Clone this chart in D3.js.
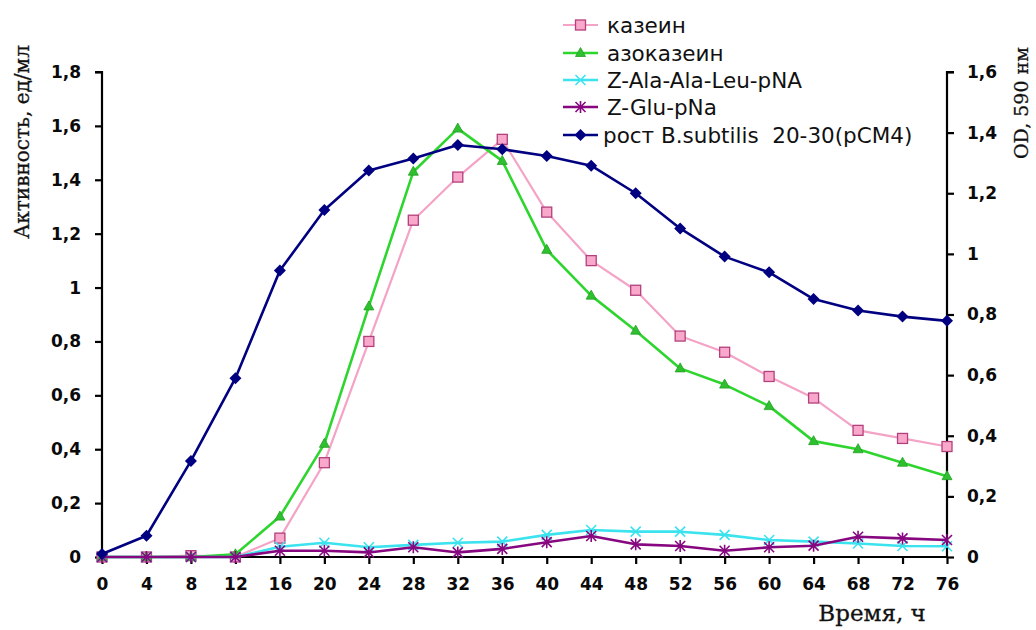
<!DOCTYPE html>
<html><head><meta charset="utf-8">
<script src="https://cdn.jsdelivr.net/npm/d3@7"></script>
<style>body{margin:0;background:#fff}svg{display:block}</style>
</head><body>
<svg id="c" width="1036" height="630"></svg>
<script>
const hours = [0,4,8,12,16,20,24,28,32,36,40,44,48,52,56,60,64,68,72,76];
const casein    = [0,0,0.005,0,0.07,0.35,0.80,1.25,1.41,1.55,1.28,1.10,0.99,0.82,0.76,0.67,0.59,0.47,0.44,0.41];
const azocasein = [0,0,0,0.01,0.15,0.42,0.93,1.43,1.59,1.47,1.14,0.97,0.84,0.70,0.64,0.56,0.43,0.40,0.35,0.30];
const zAlaAlaLeu = [0,0,0,0,0.038,0.053,0.036,0.045,0.053,0.057,0.082,0.10,0.094,0.094,0.082,0.063,0.057,0.05,0.041,0.04];
const zGlu = [0,0,0,0,0.023,0.023,0.017,0.036,0.017,0.03,0.055,0.078,0.047,0.041,0.023,0.036,0.042,0.075,0.069,0.063];
const growth = [0.01,0.07,0.317,0.59,0.945,1.145,1.275,1.315,1.359,1.345,1.323,1.291,1.2,1.084,0.991,0.939,0.851,0.813,0.793,0.779];
const leftTicks = [0,0.2,0.4,0.6,0.8,1,1.2,1.4,1.6,1.8];
const rightTicks = [0,0.2,0.4,0.6,0.8,1,1.2,1.4,1.6];
const seriesNames = ["казеин","азоказеин","Z-Ala-Ala-Leu-pNA","Z-Glu-pNa","рост B.subtilis\u00a0 20-30(pCM4)"];

const svg = d3.select("#c");
const L = 102, R = 947, T = 72, B = 557;
const x = d3.scaleLinear().domain([0,76]).range([L,R]);
const yL = d3.scaleLinear().domain([0,1.8]).range([B,T]);
const yR = d3.scaleLinear().domain([0,1.6]).range([B,T]);
const fmt = v => String(+v.toFixed(1)).replace(".", ",");

// axes
const tickFont = "DejaVu Sans";
const ax = svg.append("g").attr("transform",`translate(${L},0)`).call(d3.axisLeft(yL).tickValues(leftTicks).tickFormat(fmt).tickSize(7).tickPadding(14));
const axR = svg.append("g").attr("transform",`translate(${R},0)`).call(d3.axisRight(yR).tickValues(rightTicks).tickFormat(fmt).tickSize(7).tickPadding(13));
const axB = svg.append("g").attr("transform",`translate(0,${B})`).call(d3.axisBottom(x).tickValues(hours).tickFormat(d=>d).tickSize(7).tickPadding(14));
[ax,axR,axB].forEach(g=>{
  g.select(".domain").attr("stroke","#000").attr("stroke-width",2.2);
  g.selectAll(".tick line").attr("stroke","#000").attr("stroke-width",2.2);
  g.selectAll(".tick text").attr("font-family",tickFont).attr("font-weight","bold").attr("font-size",17).attr("fill","#0a0a0a");
});
ax.select(".domain").attr("d",`M-7,${T}H0V${B}`);
axR.select(".domain").attr("d",`M7,${T}H0V${B}`);
axB.select(".domain").attr("d",`M${L},0H${R}`);

// titles
svg.append("text").attr("transform","translate(29,142) rotate(-90)").attr("text-anchor","middle")
  .attr("font-family","DejaVu Serif").attr("font-size",20).attr("fill","#111").attr("stroke","#111").attr("stroke-width",0.3).text("Активность, ед/мл");
svg.append("text").attr("transform","translate(1028,103) rotate(-90)").attr("text-anchor","middle")
  .attr("font-family","DejaVu Serif").attr("font-size",19).attr("fill","#111").attr("stroke","#111").attr("stroke-width",0.3).text("OD, 590 нм");
svg.append("text").attr("x",872).attr("y",621).attr("text-anchor","middle")
  .attr("font-family","DejaVu Serif").attr("font-size",23).attr("fill","#111").attr("stroke","#111").attr("stroke-width",0.3).text("Время, ч");

// series
const series = [
  {name:seriesNames[0], vals:casein, y:yL, color:"#f4a3c6", w:2.2, marker:"square", fill:"#f9a8cc", stroke:"#b2407c"},
  {name:seriesNames[1], vals:azocasein, y:yL, color:"#2fd52f", w:2.6, marker:"triangle", fill:"#2fc02f", stroke:"#22a022"},
  {name:seriesNames[2], vals:zAlaAlaLeu, y:yL, color:"#3ae3ee", w:2.6, marker:"x", fill:"none", stroke:"#3ae3ee"},
  {name:seriesNames[3], vals:zGlu, y:yL, color:"#86077f", w:2.6, marker:"star", fill:"none", stroke:"#86077f"},
  {name:seriesNames[4], vals:growth, y:yR, color:"#000080", w:2.6, marker:"diamond", fill:"#000080", stroke:"#000080"}
];

function drawMarker(g, type, cx, cy, s){
  if(type==="square"){
    g.append("rect").attr("x",cx-5).attr("y",cy-5).attr("width",10).attr("height",10)
      .attr("fill",s.fill).attr("stroke",s.stroke).attr("stroke-width",1.3);
  } else if(type==="triangle"){
    g.append("path").attr("d",`M${cx},${cy-5.5}L${cx+5},${cy+3.5}L${cx-5},${cy+3.5}Z`).attr("fill",s.fill).attr("stroke",s.stroke).attr("stroke-width",0.8);
  } else if(type==="diamond"){
    g.append("path").attr("d",`M${cx},${cy-6}L${cx+6},${cy}L${cx},${cy+6}L${cx-6},${cy}Z`).attr("fill",s.fill);
  } else if(type==="x"){
    g.append("path").attr("d",`M${cx-5},${cy-5}L${cx+5},${cy+5}M${cx-5},${cy+5}L${cx+5},${cy-5}`).attr("stroke",s.stroke).attr("stroke-width",1.6);
  } else if(type==="star"){
    g.append("path").attr("d",`M${cx-5},${cy-5}L${cx+5},${cy+5}M${cx-5},${cy+5}L${cx+5},${cy-5}M${cx},${cy-6}L${cx},${cy+6}`).attr("stroke",s.stroke).attr("stroke-width",1.6);
  }
}

series.forEach(s=>{
  const g = svg.append("g");
  const line = d3.line().x((d,i)=>x(hours[i])).y(d=>s.y(d));
  g.append("path").attr("d",line(s.vals)).attr("fill","none").attr("stroke",s.color).attr("stroke-width",s.w).attr("stroke-linejoin","round");
  s.vals.forEach((v,i)=>drawMarker(g, s.marker, x(hours[i]), s.y(v), s));
});

// legend
const legY = [25,53,80,107,135];
series.forEach((s,i)=>{
  const g = svg.append("g");
  g.append("line").attr("x1",563).attr("x2",598).attr("y1",legY[i]).attr("y2",legY[i]).attr("stroke",s.color).attr("stroke-width",s.w);
  drawMarker(g, s.marker, 580.5, legY[i], s);
  g.append("text").attr("x",i===4?603:607).attr("y",legY[i]).attr("dy","0.36em")
    .attr("font-family","DejaVu Sans").attr("font-size",21.5).attr("fill","#111").text(s.name);
});
</script>
</body></html>
